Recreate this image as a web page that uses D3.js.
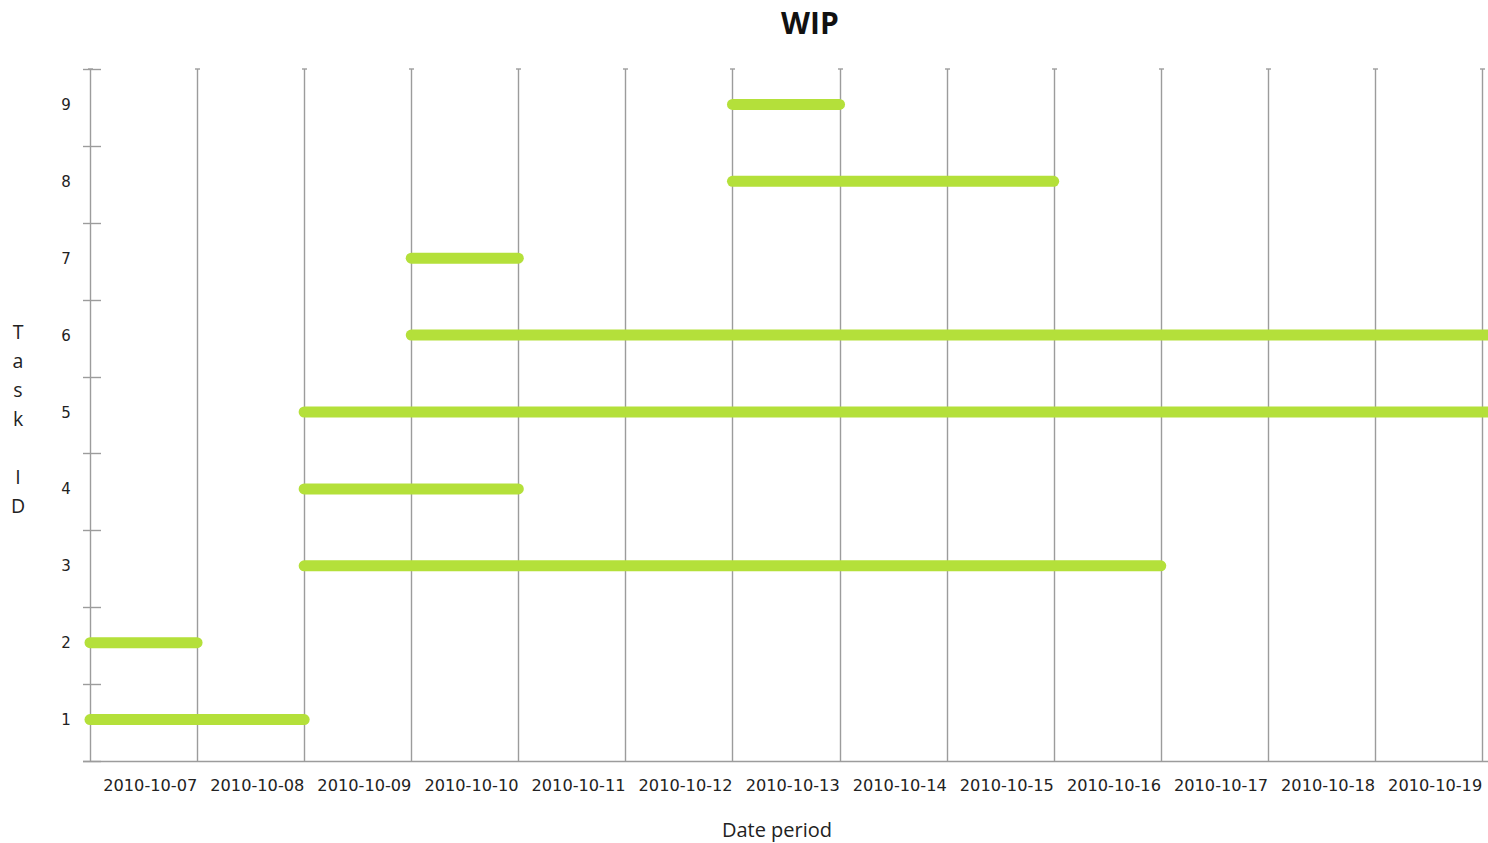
<!DOCTYPE html>
<html>
<head>
<meta charset="utf-8">
<script src="https://cdn.jsdelivr.net/npm/d3@7"></script>
<style>
  html, body { margin: 0; padding: 0; background: #ffffff; }
  svg { display: block; }
</style>
</head>
<body>
<svg id="chart" width="1488" height="843"></svg>
<script>
// ---- data ----
const taskIds = [1, 2, 3, 4, 5, 6, 7, 8, 9];
const taskStarts = ["2010-10-07", "2010-10-07", "2010-10-09", "2010-10-09", "2010-10-09", "2010-10-10", "2010-10-10", "2010-10-13", "2010-10-13"];
const taskEnds   = ["2010-10-09", "2010-10-08", "2010-10-17", "2010-10-11", "2010-10-21", "2010-10-21", "2010-10-11", "2010-10-16", "2010-10-14"];
const dateTicks = ["2010-10-07", "2010-10-08", "2010-10-09", "2010-10-10", "2010-10-11", "2010-10-12", "2010-10-13",
                   "2010-10-14", "2010-10-15", "2010-10-16", "2010-10-17", "2010-10-18", "2010-10-19"];
const gridDates = ["2010-10-07", "2010-10-08", "2010-10-09", "2010-10-10", "2010-10-11", "2010-10-12", "2010-10-13",
                   "2010-10-14", "2010-10-15", "2010-10-16", "2010-10-17", "2010-10-18", "2010-10-19", "2010-10-20"];
const titleText = "WIP";
const xTitle = "Date period";
const yTitle = "Task ID";

// ---- setup ----
const parse = d3.utcParse("%Y-%m-%d");
const svg = d3.select("#chart");
const plotLeft = 90, plotRight = 1482, plotTop = 69, plotBottom = 761;

const x = d3.scaleUtc()
  .domain([parse("2010-10-07"), parse("2010-10-20")])
  .range([plotLeft, plotRight]);
const y = d3.scaleBand()
  .domain(taskIds)
  .range([plotBottom, plotTop])
  .paddingInner(0).paddingOuter(0);
const yMid = d => y(d) + y.bandwidth() / 2 - 3;

const gridColor = "#9c9c9c";

// title
svg.append("text")
  .attr("x", 810).attr("y", 34)
  .attr("text-anchor", "middle")
  .attr("font-family", "'Open Sans', sans-serif")
  .attr("font-weight", "bold")
  .attr("font-size", 30)
  .attr("fill", "#111")
  .text(titleText);

// vertical gridlines
const grid = svg.append("g");
gridDates.forEach(ds => {
  const gx = Math.round(x(parse(ds))) + 0.5;
  grid.append("line")
    .attr("x1", gx).attr("x2", gx)
    .attr("y1", plotTop).attr("y2", plotBottom)
    .attr("stroke", gridColor).attr("stroke-width", 1.4);
  grid.append("line")
    .attr("x1", gx - 2.5).attr("x2", gx + 2.5)
    .attr("y1", plotTop).attr("y2", plotTop)
    .attr("stroke", gridColor).attr("stroke-width", 1.4);
});

// bottom axis line
svg.append("line")
  .attr("x1", 83).attr("x2", 1488)
  .attr("y1", plotBottom + 0.5).attr("y2", plotBottom + 0.5)
  .attr("stroke", gridColor).attr("stroke-width", 1.4);

// y axis band-boundary ticks
const yBounds = taskIds.map(t => y(t)).concat([y(taskIds[0]) + y.bandwidth()]);
svg.append("g").selectAll("line")
  .data(yBounds)
  .join("line")
  .attr("x1", 83).attr("x2", 101)
  .attr("y1", d => Math.round(d) + 0.5).attr("y2", d => Math.round(d) + 0.5)
  .attr("stroke", gridColor).attr("stroke-width", 1.4);

// y tick labels
svg.append("g").selectAll("text")
  .data(taskIds)
  .join("text")
  .attr("x", 66)
  .attr("y", d => yMid(d) + 5.5)
  .attr("text-anchor", "middle")
  .attr("font-family", "'DejaVu Sans', sans-serif")
  .attr("font-size", 15)
  .attr("fill", "#222")
  .text(d => d);

// x tick labels (placed inside each day band)
svg.append("g").selectAll("text")
  .data(dateTicks)
  .join("text")
  .attr("x", d => x(d3.utcMinute.offset(parse(d), 13.5 * 60)))
  .attr("y", 791)
  .attr("text-anchor", "middle")
  .attr("font-family", "'DejaVu Sans', sans-serif")
  .attr("font-size", 16.2)
  .attr("fill", "#222")
  .text(d => d);

// x title
svg.append("text")
  .attr("x", 777).attr("y", 837)
  .attr("text-anchor", "middle")
  .attr("font-family", "'Open Sans', sans-serif")
  .attr("font-size", 20)
  .attr("fill", "#222")
  .text(xTitle);

// y title, stacked letters
const yt = svg.append("text")
  .attr("font-family", "'Open Sans', sans-serif")
  .attr("font-size", 19.5)
  .attr("fill", "#222")
  .attr("text-anchor", "middle");
yTitle.split("").forEach((ch, i) => {
  yt.append("tspan")
    .attr("x", 18)
    .attr("y", 339 + 29 * i)
    .text(ch === " " ? "\u00a0" : ch);
});

// task bars
const tasks = taskIds.map((id, i) => ({ id, s: parse(taskStarts[i]), e: parse(taskEnds[i]) }));
svg.append("g").selectAll("line")
  .data(tasks)
  .join("line")
  .attr("x1", d => x(d.s))
  .attr("x2", d => x(d.e))
  .attr("y1", d => yMid(d.id))
  .attr("y2", d => yMid(d.id))
  .attr("stroke", "#b4e03a")
  .attr("stroke-width", 11)
  .attr("stroke-linecap", "round");
</script>
</body>
</html>
